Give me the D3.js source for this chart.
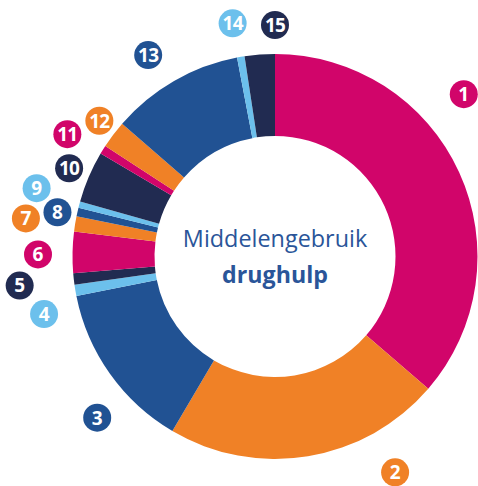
<!DOCTYPE html>
<html>
<head>
<meta charset="utf-8">
<script src="https://cdn.jsdelivr.net/npm/d3@7"></script>
<style>
  html, body { margin: 0; padding: 0; background: #ffffff; }
  svg { display: block; }
</style>
</head>
<body>
<svg id="chart" width="478" height="486"></svg>
<script>
// Categories (numbered 1–15) and their share of the total, in percent
const categories = ["1", "2", "3", "4", "5", "6", "7", "8", "9", "10", "11", "12", "13", "14", "15"];
const shares = [36.3, 22.1, 13.4, 0.9, 0.9, 3.3, 1.2, 0.7, 0.5, 4.1, 0.7, 2.2, 10.6, 0.6, 2.4];

// Title inside the hole
const titleLines = ["Middelengebruik", "drughulp"];

// Five-colour palette repeated around the ring
const palette = ["#d1056a", "#f08126", "#215293", "#6cc0ec", "#212b51"];

// Badge placement around the ring: [angle in degrees clockwise from top, distance from centre]
const badgeLayout = [
  [49.3, 249], [150.9, 247], [227.8, 240], [256.0, 238], [263.5, 257],
  [270.5, 237], [278.7, 252], [281.5, 222], [286.0, 248], [293.2, 224],
  [300.5, 241], [307.7, 222], [327.8, 238], [349.7, 237], [0.0, 231.5]
];

const W = 478, H = 486;
const cx = 275, cy = 256.5;
const outerR = 202.5, innerR = 120.5;
const badgeR = 14;

const svg = d3.select("#chart");
const g = svg.append("g").attr("transform", `translate(${cx},${cy})`);

const color = d3.scaleOrdinal()
  .domain(categories)
  .range(categories.map((c, i) => palette[i % palette.length]));

const rows = categories.map((c, i) => ({ key: c, value: shares[i] }));

const pie = d3.pie()
  .value(d => d.value)
  .sort(null)
  .startAngle(0)
  .endAngle(2 * Math.PI);

const arc = d3.arc().innerRadius(innerR).outerRadius(outerR);

g.selectAll("path.slice")
  .data(pie(rows))
  .join("path")
  .attr("class", "slice")
  .attr("d", arc)
  .attr("fill", d => color(d.data.key));

// Numbered badges
const badges = g.selectAll("g.badge")
  .data(rows)
  .join("g")
  .attr("class", "badge")
  .attr("transform", (d, i) => {
    const [deg, dist] = badgeLayout[i];
    const [x, y] = d3.pointRadial(deg * Math.PI / 180, dist);
    return `translate(${x},${y})`;
  });

badges.append("circle")
  .attr("r", badgeR)
  .attr("fill", d => color(d.key));

badges.append("text")
  .attr("text-anchor", "middle")
  .attr("dy", "0.36em")
  .attr("fill", "#ffffff")
  .attr("font-family", "'Open Sans', sans-serif")
  .attr("font-weight", 700)
  .attr("font-size", 19)
  .attr("letter-spacing", d => d.key.length > 1 ? -0.8 : 0)
  .text(d => d.key);

// Centre title
g.append("text")
  .attr("text-anchor", "middle")
  .attr("y", -10)
  .attr("fill", "#2a5599")
  .attr("font-family", "'Open Sans', sans-serif")
  .attr("font-size", 23.4)
  .text(titleLines[0]);

g.append("text")
  .attr("text-anchor", "middle")
  .attr("y", 26)
  .attr("fill", "#2a5599")
  .attr("font-family", "'Open Sans', sans-serif")
  .attr("font-weight", 700)
  .attr("font-size", 23.2)
  .text(titleLines[1]);
</script>
</body>
</html>
